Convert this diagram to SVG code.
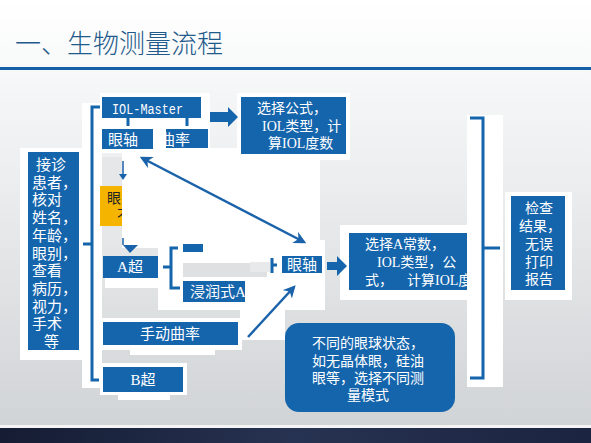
<svg xmlns="http://www.w3.org/2000/svg" width="591" height="443" viewBox="0 0 591 443">
<defs>
<linearGradient id="bg" x1="0" y1="0" x2="0" y2="1">
<stop offset="0" stop-color="#ffffff"/>
<stop offset="0.35" stop-color="#eef0f1"/>
<stop offset="1" stop-color="#cfd2d4"/>
</linearGradient>
<linearGradient id="foot" x1="0" y1="0" x2="1" y2="0">
<stop offset="0" stop-color="#151c33"/>
<stop offset="0.5" stop-color="#273352"/>
<stop offset="1" stop-color="#1b2440"/>
</linearGradient>
<marker id="ah" viewBox="0 0 10 10" refX="8" refY="5" markerWidth="5" markerHeight="5" orient="auto-start-reverse">
<path d="M0,0 L10,5 L0,10 L3,5 Z" fill="#1a62aa"/>
</marker>
<clipPath id="cQ"><rect x="166" y="129" width="42" height="19"/></clipPath>
<clipPath id="cY"><rect x="100" y="186" width="22" height="40"/></clipPath>
<clipPath id="cJ"><rect x="183" y="281" width="62" height="21"/></clipPath>
<clipPath id="cA"><rect x="349" y="233" width="118" height="57"/></clipPath>
</defs>
<style>
.box{fill:#1565ad}
.wt{fill:#ffffff}
.t{font-family:"Liberation Serif","Noto Sans CJK SC",serif;fill:#ffffff;font-size:15px}
.s{font-size:14px}
.ln{fill:none;stroke:#1a62aa;stroke-width:2.5}
.br{fill:none;stroke:#1565ad;stroke-width:3}
</style>
<rect x="0" y="0" width="591" height="443" fill="url(#bg)"/>
<text x="15" y="53" font-family="Liberation Serif,Noto Sans CJK SC,serif" font-size="26" fill="#1f5a8a" font-weight="300">一、生物测量流程</text>
<rect x="0" y="67" width="591" height="3" fill="#1660a8"/>
<rect x="0" y="425" width="591" height="3" fill="#f4f4f4"/>
<rect x="0" y="428" width="591" height="15" fill="url(#foot)"/>

<g id="backdrops">
<rect class="wt" x="20" y="148" width="64" height="212"/>
<rect class="wt" x="82" y="103" width="20" height="285"/>
<rect class="wt" x="100" y="93" width="110" height="60"/>
<rect class="wt" x="237" y="93" width="113" height="67"/>
<rect fill="#e6e7e8" x="102" y="157" width="21" height="88"/>
<rect class="wt" x="122" y="148" width="198" height="100"/>
<rect class="wt" x="158" y="240" width="167" height="70"/>
<rect fill="#dfe0e1" x="183" y="263" width="84" height="14"/>
<rect fill="#e8e9ea" x="250" y="262" width="20" height="10"/>
<rect class="wt" x="240" y="300" width="45" height="40"/>
<rect class="wt" x="105" y="278" width="55" height="10"/>
<rect class="wt" x="340" y="225" width="130" height="75"/>
<rect class="wt" x="467" y="115" width="36" height="272"/>
<rect class="wt" x="505" y="192" width="67" height="108"/>
<rect class="wt" x="100" y="318" width="142" height="32"/>
<rect class="wt" x="130" y="345" width="85" height="10"/>
<rect class="wt" x="100" y="363" width="87" height="32"/>
<rect class="wt" x="118" y="392" width="52" height="8"/>
</g>

<g id="connectors">
<path class="br" d="M83,244 H92 M100,107 H92 V380 H99"/>
<path class="br" d="M128,118 V126 M187,118 V126" stroke-width="2"/>
<path class="br" d="M163,267 H171 M178,248 H171 V288 H180" stroke-width="2.5"/>
<path class="br" d="M272,258 V273 M272,265 H277" stroke-width="2.5"/>
<path class="br" d="M470,118 H483 V378 H470 M483,248 H500"/>
<path d="M210,112 H228 V107 L238,117 L228,127 V122 H210 Z" fill="#1565ad"/>
<path d="M327,262 H337 V256 L347,266 L337,276 V270 H327 Z" fill="#1565ad"/>
<path d="M123,161 V176" stroke="#1a62aa" stroke-width="1.5"/>
<path d="M119,174 L123,180 L127,174 Z" fill="#1a62aa"/>
<path d="M123,238 V245" stroke="#1a62aa" stroke-width="1.5"/>
<path d="M123,245 H138 L130,253 Z" fill="#1a62aa"/>
<line class="ln" x1="142" y1="158" x2="304" y2="242" marker-start="url(#ah)" marker-end="url(#ah)"/>
<line class="ln" x1="248" y1="337" x2="294" y2="287" marker-end="url(#ah)"/>
</g>

<g id="n-patient">
<rect class="box" x="28" y="152" width="51" height="198"/>
<g class="t">
<text x="36" y="170">接诊</text>
<text x="32" y="187.7">患者，</text>
<text x="32" y="205.4">核对</text>
<text x="32" y="223.1">姓名，</text>
<text x="32" y="240.8">年龄，</text>
<text x="32" y="258.5">眼别，</text>
<text x="32" y="276.2">查看</text>
<text x="32" y="293.9">病历，</text>
<text x="32" y="311.6">视力，</text>
<text x="32" y="329.3">手术</text>
<text x="44" y="347">等</text>
</g>
</g>

<g id="n-iolmaster">
<rect class="box" x="102" y="97" width="99" height="21"/>
<text x="112" y="114" font-family="Liberation Mono,monospace" font-size="14" fill="#fff" textLength="71" lengthAdjust="spacingAndGlyphs">IOL-Master</text>
</g>
<g id="n-axis1">
<rect class="box" x="102" y="129" width="51" height="20"/>
<text class="t" x="108" y="145">眼轴</text>
</g>
<g id="n-curv1">
<rect class="box" x="166" y="129" width="42" height="19"/>
<text class="t" x="160" y="145" clip-path="url(#cQ)">曲率</text>
</g>
<g id="n-formula1">
<rect class="box" x="241" y="97" width="105" height="57"/>
<g class="t s">
<text x="257" y="113">选择公式，</text>
<text x="262" y="131">IOL类型，计</text>
<text x="268" y="148">算IOL度数</text>
</g>
</g>
<g id="n-yellow">
<rect fill="#f5b400" x="100" y="186" width="22" height="40"/>
<g clip-path="url(#cY)" font-family="Liberation Serif,Noto Sans CJK SC,serif" font-size="14" fill="#222">
<text x="107" y="203">眼</text>
<text x="117" y="220">不</text>
</g>
</g>
<g id="n-ascan">
<rect class="box" x="103" y="256" width="55" height="22"/>
<text class="t" x="130" y="272" text-anchor="middle">A超</text>
</g>
<g id="n-contact">
<rect class="box" x="183" y="244" width="20" height="8"/>
</g>
<g id="n-immersion">
<rect class="box" x="183" y="281" width="62" height="21"/>
<text class="t" x="190" y="297" clip-path="url(#cJ)">浸润式A超</text>
</g>
<g id="n-axis2">
<rect class="box" x="282" y="256" width="40" height="17"/>
<text class="t" x="287" y="270">眼轴</text>
</g>
<g id="n-formula2">
<rect class="box" x="349" y="233" width="118" height="57"/>
<g class="t s" clip-path="url(#cA)">
<text x="365" y="249">选择A常数，</text>
<text x="377" y="267">IOL类型，公</text>
<text x="365" y="285" xml:space="preserve">式，    计算IOL度数</text>
</g>
</g>
<g id="n-manual">
<rect class="box" x="103" y="322" width="135" height="23"/>
<text class="t" x="170" y="339" text-anchor="middle">手动曲率</text>
</g>
<g id="n-bscan">
<rect class="box" x="103" y="367" width="80" height="25"/>
<text class="t" x="143" y="385" text-anchor="middle">B超</text>
</g>
<g id="n-note">
<rect class="box" x="285" y="323" width="170" height="89" rx="14"/>
<g class="t s" text-anchor="middle">
<text x="368" y="348">不同的眼球状态，</text>
<text x="368" y="366">如无晶体眼，硅油</text>
<text x="368" y="383">眼等，选择不同测</text>
<text x="368" y="400">量模式</text>
</g>
</g>
<g id="n-report">
<rect class="box" x="511" y="196" width="54" height="94"/>
<g class="t s">
<text x="525" y="213">检查</text>
<text x="519" y="231">结果，</text>
<text x="525" y="249">无误</text>
<text x="525" y="267">打印</text>
<text x="525" y="284">报告</text>
</g>
</g>
</svg>
